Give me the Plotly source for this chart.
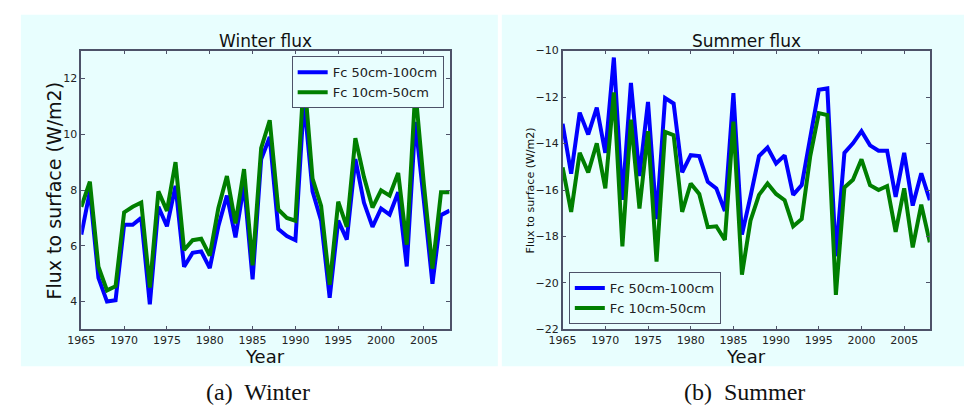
import plotly.graph_objects as go

years = list(range(1965, 2009))

winter_deep = [6.4, 7.95, 4.85, 4.0, 4.05, 6.75, 6.75, 7.0, 3.9, 7.4, 6.7, 8.15, 5.25, 5.75, 5.8, 5.2,
               6.7, 7.8, 6.3, 8.2, 4.8, 9.1, 9.9, 6.6, 6.35, 6.2, 11.2, 7.95, 6.9, 4.14, 6.9, 6.22,
               9.11, 7.55, 6.68, 7.34, 7.12, 7.92, 5.26, 10.44, 7.6, 4.64, 7.1, 7.26]
winter_shallow = [7.4, 8.3, 5.25, 4.4, 4.55, 7.2, 7.4, 7.55, 4.5, 7.95, 7.25, 9.0, 5.85, 6.2, 6.25, 5.65,
                  7.35, 8.5, 6.8, 8.75, 5.3, 9.5, 10.5, 7.3, 7.0, 6.9, 12.14, 8.41, 7.43, 4.6, 7.58, 6.68,
                  9.86, 8.47, 7.37, 7.99, 7.8, 8.61, 6.04, 11.59, 8.2, 5.18, 7.92, 7.92]

summer_deep = [-13.15, -15.3, -12.67, -13.61, -12.46, -14.4, -10.3, -16.42, -11.39, -15.4, -12.21, -17.25,
               -12.04, -12.28, -15.24, -14.5, -14.54, -15.65, -15.93, -16.9, -11.83, -17.92, -16.28, -14.54,
               -14.17, -14.86, -14.51, -16.21, -15.79, -13.71, -11.69, -11.63, -18.85, -14.4, -13.99, -13.47,
               -14.08, -14.31, -14.31, -16.3, -14.4, -16.67, -15.28, -16.44]
summer_shallow = [-15.03, -16.94, -14.4, -15.24, -13.99, -15.93, -11.8, -18.43, -12.97, -16.8, -13.47, -19.08,
                  -13.5, -13.64, -16.94, -15.72, -16.17, -17.6, -17.56, -18.15, -13.06, -19.64, -17.32, -16.21,
                  -15.72, -16.17, -16.44, -17.56, -17.25, -14.54, -12.69, -12.78, -20.51, -15.89, -15.56, -14.68,
                  -15.79, -16.0, -15.83, -17.8, -15.93, -18.47, -16.63, -18.25]

series_names = ["Fc 50cm-100cm", "Fc 10cm-50cm"]
x_ticks = [1965, 1970, 1975, 1980, 1985, 1990, 1995, 2000, 2005]
winter_yticks = [4, 6, 8, 10, 12]
summer_yticks = [-22, -20, -18, -16, -14, -12, -10]

W, H = 964, 412
BG = "#E8FEFE"
AX = "#4d5268"
FONT = "DejaVu Sans"
BLUE = "#0000FF"
GREEN = "#007F00"


def px(x):
    return x / W


def py(y):
    return 1 - y / H


fig = go.Figure()

fig.add_trace(go.Scatter(x=years, y=winter_deep, mode="lines", name=series_names[0],
                         line=dict(color=BLUE, width=4), xaxis="x", yaxis="y", legend="legend"))
fig.add_trace(go.Scatter(x=years, y=winter_shallow, mode="lines", name=series_names[1],
                         line=dict(color=GREEN, width=4), xaxis="x", yaxis="y", legend="legend"))
fig.add_trace(go.Scatter(x=years, y=summer_deep, mode="lines", name=series_names[0],
                         line=dict(color=BLUE, width=4), xaxis="x2", yaxis="y2", legend="legend2"))
fig.add_trace(go.Scatter(x=years, y=summer_shallow, mode="lines", name=series_names[1],
                         line=dict(color=GREEN, width=4), xaxis="x2", yaxis="y2", legend="legend2"))

axis_common = dict(showgrid=False, zeroline=False, showline=True, linecolor=AX, linewidth=1.5,
                   mirror="allticks", ticks="inside", ticklen=4, tickcolor=AX, tickwidth=1,
                   tickfont=dict(family=FONT, size=11, color="#222"))

ydom = [py(334), py(46)]

fig.update_layout(
    width=W, height=H, margin=dict(l=0, r=0, t=0, b=0),
    paper_bgcolor="white", plot_bgcolor=BG,
    font=dict(family=FONT),
    xaxis=dict(domain=[px(68.3), px(442)], range=[1965, 2008], tickvals=x_ticks, anchor="y", **axis_common),
    yaxis=dict(domain=ydom, range=[3, 13], tickvals=winter_yticks, anchor="x", **axis_common),
    xaxis2=dict(domain=[px(556.7), px(929.3)], range=[1965, 2008], tickvals=x_ticks, anchor="y2", **axis_common),
    yaxis2=dict(domain=ydom, range=[-22, -10], tickvals=summer_yticks, anchor="x2", **axis_common),
    legend=dict(x=px(436), y=py(52), xanchor="right", yanchor="top", bgcolor=BG,
                bordercolor=AX, borderwidth=1, font=dict(family=FONT, size=13, color="#222"),
                tracegroupgap=0, itemwidth=30),
    legend2=dict(x=px(563), y=py(328.5), xanchor="left", yanchor="bottom", bgcolor=BG,
                 bordercolor=AX, borderwidth=1, font=dict(family=FONT, size=13, color="#222"),
                 tracegroupgap=0, itemwidth=30),
    showlegend=True,
)

shapes = [
    dict(type="rect", xref="paper", yref="paper", x0=px(7), x1=px(491), y0=py(372), y1=py(9),
         fillcolor=BG, line=dict(width=0), layer="below"),
    dict(type="rect", xref="paper", yref="paper", x0=px(495), x1=px(964), y0=py(372), y1=py(9),
         fillcolor=BG, line=dict(width=0), layer="below"),
]
fig.update_layout(shapes=shapes)

annotations = [
    dict(text="Winter flux", x=px(255), y=py(36), xref="paper", yref="paper", showarrow=False,
         font=dict(family=FONT, size=17, color="#111"), xanchor="center", yanchor="middle"),
    dict(text="Summer flux", x=px(743), y=py(36), xref="paper", yref="paper", showarrow=False,
         font=dict(family=FONT, size=17, color="#111"), xanchor="center", yanchor="middle"),
    dict(text="Year", x=px(255), y=py(349), xref="paper", yref="paper", showarrow=False,
         font=dict(family=FONT, size=18, color="#111"), xanchor="center", yanchor="top"),
    dict(text="Year", x=px(743), y=py(349), xref="paper", yref="paper", showarrow=False,
         font=dict(family=FONT, size=18, color="#111"), xanchor="center", yanchor="top"),
    dict(text="Flux to surface (W/m2)", x=px(41), y=py(190), xref="paper", yref="paper", showarrow=False,
         textangle=-90, font=dict(family=FONT, size=19, color="#111"), xanchor="center", yanchor="middle"),
    dict(text="Flux to surface (W/m2)", x=px(524), y=py(190), xref="paper", yref="paper", showarrow=False,
         textangle=-90, font=dict(family=FONT, size=11, color="#111"), xanchor="center", yanchor="middle"),
    dict(text="(a)  Winter", x=px(248), y=py(399), xref="paper", yref="paper", showarrow=False,
         font=dict(family="Liberation Serif", size=24, color="#111"), xanchor="center", yanchor="middle"),
    dict(text="(b)  Summer", x=px(741), y=py(399), xref="paper", yref="paper", showarrow=False,
         font=dict(family="Liberation Serif", size=24, color="#111"), xanchor="center", yanchor="middle"),
]
fig.update_layout(annotations=annotations)

fig.write_html("out.html")
